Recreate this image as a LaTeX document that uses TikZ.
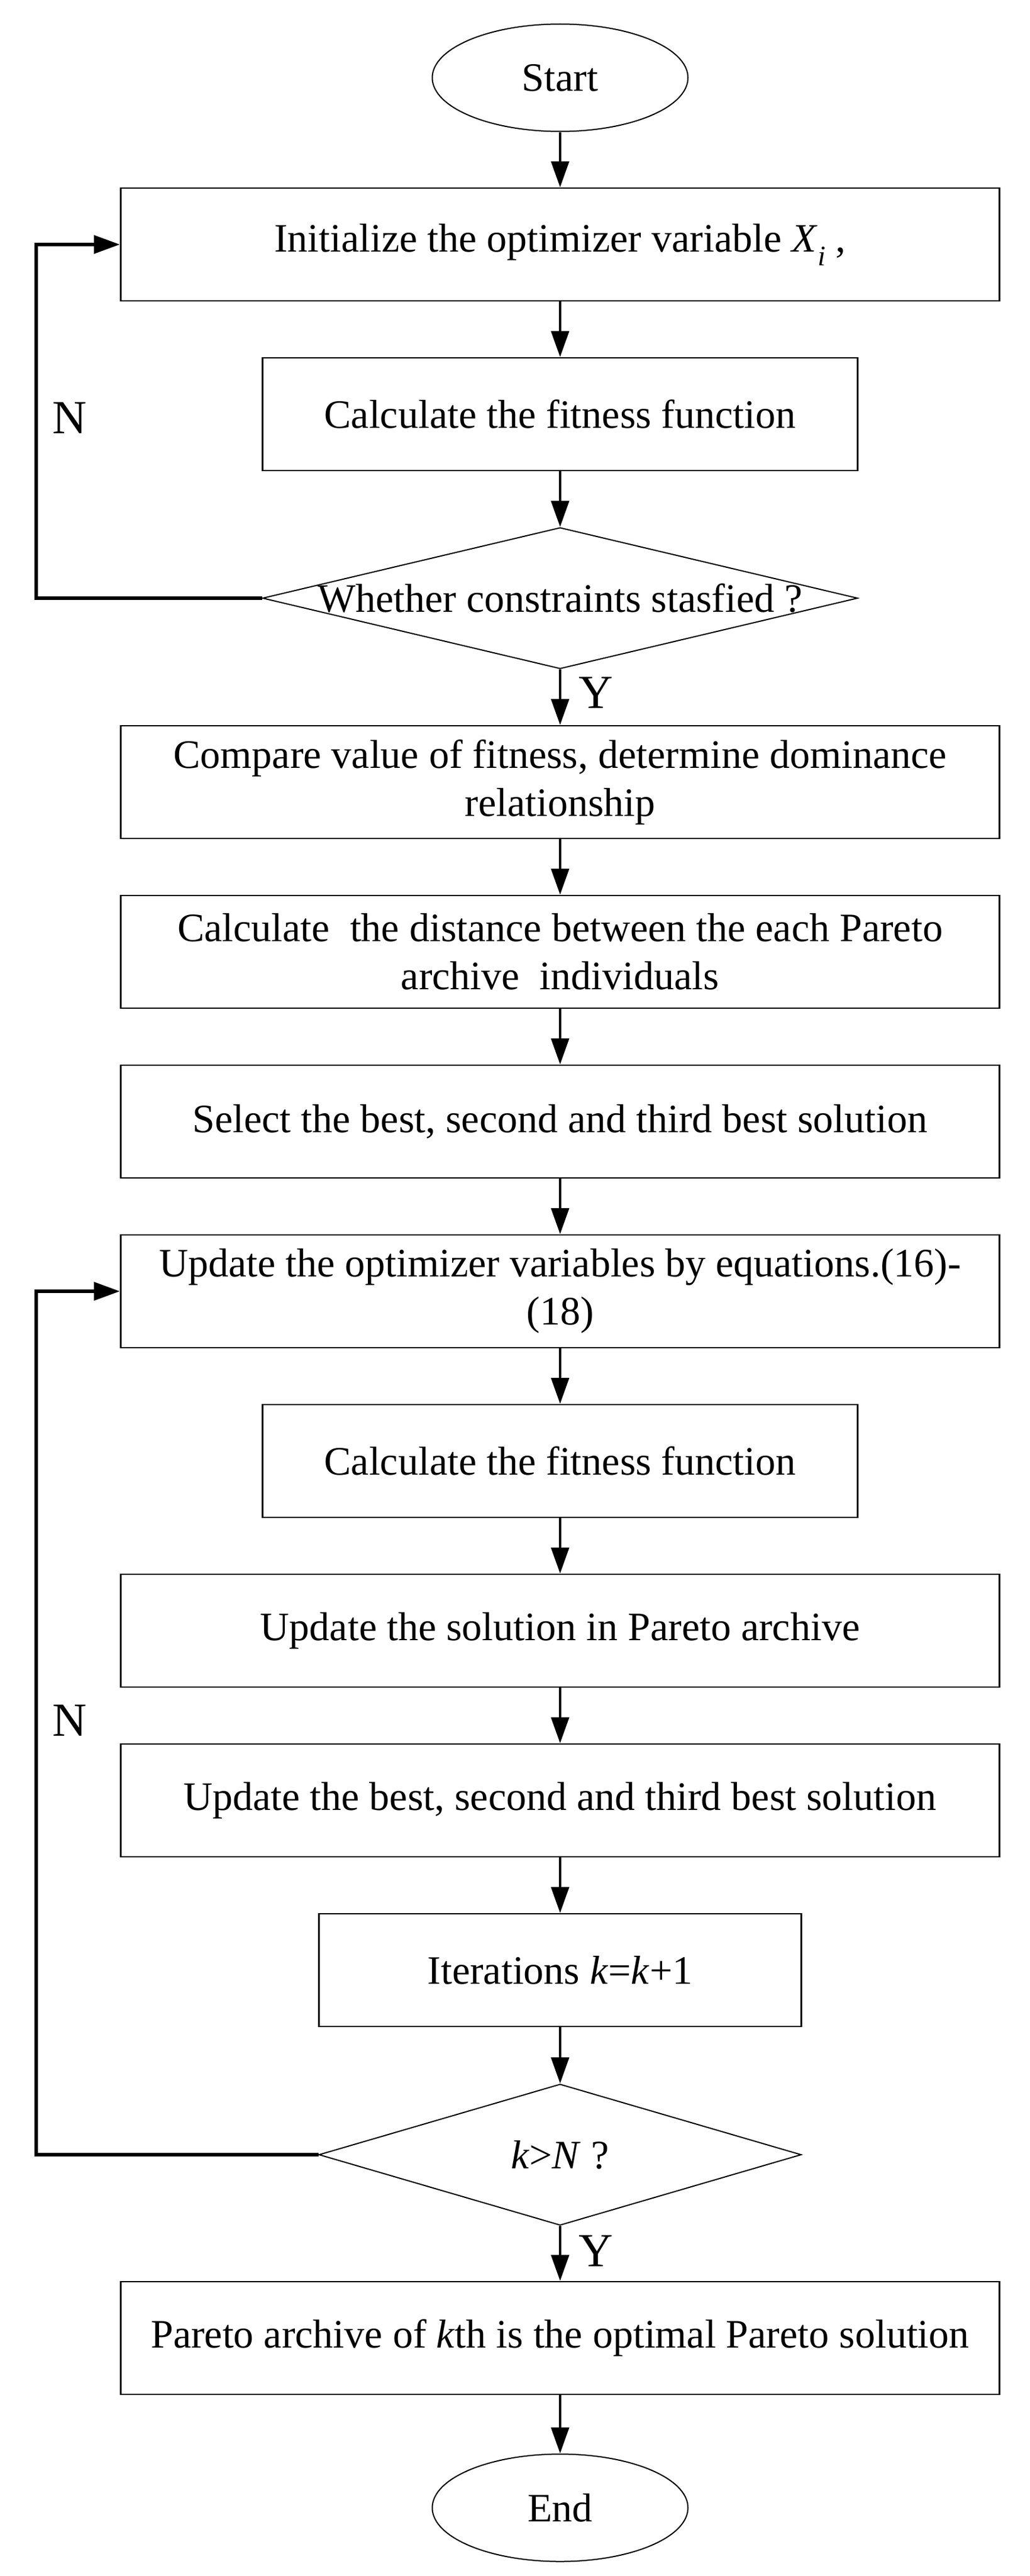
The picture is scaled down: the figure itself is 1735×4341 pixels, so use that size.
\documentclass[tikz,border=0pt]{standalone}
\usepackage{fontspec}
\setmainfont{Liberation Serif}
\usetikzlibrary{shapes.geometric,arrows.meta}
\begin{document}
\begin{tikzpicture}[x=1pt,y=-1pt,
  every node/.style={font=\fontsize{68}{81}\selectfont},
  box/.style={draw,line width=2.5pt,rectangle,minimum width=1481pt,minimum height=190pt,align=center,inner sep=0pt},
  mbox/.style={box,minimum width=1003pt},
  sbox/.style={box,minimum width=813pt},
  term/.style={draw,ellipse,line width=2pt,minimum width=431pt,minimum height=181pt,inner sep=0pt},
  dec/.style={draw,diamond,line width=2pt,inner sep=0pt},
  flow/.style={line width=4.5pt,-{Triangle[length=44pt,width=30pt]}},
  back/.style={line width=6.5pt,-{Triangle[length=44pt,width=30pt]}},
  lab/.style={font=\fontsize{80}{90}\selectfont,inner sep=0pt}
]
\useasboundingbox (0,0) rectangle (1735,4341);
\coordinate (leftx) at (61,0);

\node[term] (start) at (944,131) {Start};
\node[box] (init) at (944,412) {Initialize the optimizer variable \textit{X}\textsubscript{\textit{i}} ,};
\node[mbox] (fit1) at (944,698) {Calculate the fitness function};
\node[dec,minimum width=1003pt,minimum height=238pt] (d1) at (944,1008) {\makebox[0pt]{Whether constraints stasfied ?}};
\node[box] (cmp) at (944,1318) {Compare value of fitness, determine dominance\\relationship};
\node[box] (dist) at (944,1604) {Calculate\ \ the distance between the each Pareto\\archive\ \ individuals};
\node[box] (sel) at (944,1890) {Select the best, second and third best solution};
\node[box] (upd) at (944,2176) {Update the optimizer variables by equations.(16)-\\(18)};
\node[mbox] (fit2) at (944,2462) {Calculate the fitness function};
\node[box] (arch) at (944,2748) {Update the solution in Pareto archive};
\node[box] (best) at (944,3034) {Update the best, second and third best solution};
\node[sbox] (iter) at (944,3320) {Iterations \textit{k}=\textit{k}+1};
\node[dec,minimum width=813pt,minimum height=238pt] (d2) at (944,3631) {\makebox[0pt]{\textit{k}>\textit{N} ?}};
\node[box] (res) at (944,3940) {Pareto archive of \textit{k}th is the optimal Pareto solution};
\node[term] (end) at (944,4226) {End};

\node[lab] (n1) at (117,704) {N};
\node[lab] (y1) at (1004,1167) {Y};
\node[lab] (n2) at (117,2899) {N};
\node[lab] (y2) at (1004,3793) {Y};

\draw[flow] (start) -- (init);
\draw[flow] (init) -- (fit1);
\draw[flow] (fit1) -- (d1);
\draw[flow] (d1) -- (cmp);
\draw[flow] (cmp) -- (dist);
\draw[flow] (dist) -- (sel);
\draw[flow] (sel) -- (upd);
\draw[flow] (upd) -- (fit2);
\draw[flow] (fit2) -- (arch);
\draw[flow] (arch) -- (best);
\draw[flow] (best) -- (iter);
\draw[flow] (iter) -- (d2);
\draw[flow] (d2) -- (res);
\draw[flow] (res) -- (end);

\draw[back] (d1.west) -- (d1.west -| leftx) |- (init.west);
\draw[back] (d2.west) -- (d2.west -| leftx) |- (upd.west);
\end{tikzpicture}
\end{document}
